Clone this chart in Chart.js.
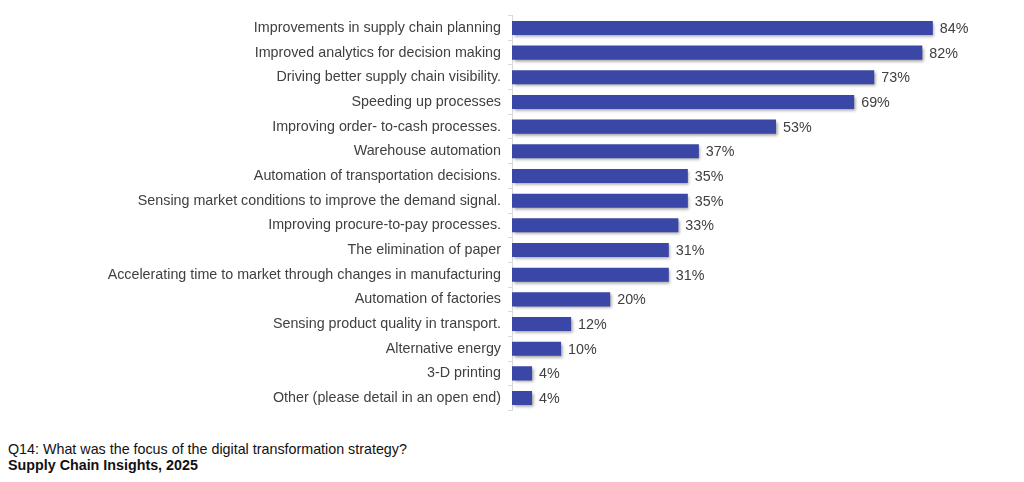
<!DOCTYPE html>
<html>
<head>
<meta charset="utf-8">
<script src="https://cdn.jsdelivr.net/npm/chart.js@4"></script>
<style>
  html,body{margin:0;padding:0;background:#fff;}
  #wrap{position:absolute;left:0;top:0;width:1024px;height:426px;}
  .foot{position:absolute;left:8px;font-family:"Liberation Sans",Arial,sans-serif;font-size:14.3px;color:#111;line-height:16px;}
</style>
</head>
<body>
<div id="wrap"><canvas id="c"></canvas></div>
<div class="foot" style="top:441px;">Q14: What was the focus of the digital transformation strategy?</div>
<div class="foot" style="top:457px;font-weight:bold;">Supply Chain Insights, 2025</div>
<script>
const categories = [
  "Improvements in supply chain planning",
  "Improved analytics for decision making",
  "Driving better supply chain visibility.",
  "Speeding up processes",
  "Improving order- to-cash processes.",
  "Warehouse automation",
  "Automation of transportation decisions.",
  "Sensing market conditions to improve the demand signal.",
  "Improving procure-to-pay processes.",
  "The elimination of paper",
  "Accelerating time to market through changes in manufacturing",
  "Automation of factories",
  "Sensing product quality in transport.",
  "Alternative energy",
  "3-D printing",
  "Other (please detail in an open end)"
];
// bar lengths (labels show rounded percentages)
const values = [84.0, 81.9, 72.3, 68.3, 52.7, 37.3, 35.1, 35.1, 33.2, 31.3, 31.3, 19.6, 11.8, 9.8, 4.0, 4.0];
const valueLabels = ["84%", "82%", "73%", "69%", "53%", "37%", "35%", "35%", "33%", "31%", "31%", "20%", "12%", "10%", "4%", "4%"];

const shadowPlugin = {
  id: 'shadow',
  beforeDatasetsDraw(chart) {
    const ctx = chart.ctx;
    ctx.save();
    ctx.shadowColor = 'rgba(0,0,0,0.38)';
    ctx.shadowBlur = 3;
    ctx.shadowOffsetX = 1.5;
    ctx.shadowOffsetY = 2;
  },
  afterDatasetsDraw(chart) {
    const ctx = chart.ctx;
    ctx.restore();
    const meta = chart.getDatasetMeta(0);
    ctx.save();
    ctx.font = '14.3px "Liberation Sans", Arial, sans-serif';
    ctx.fillStyle = '#404040';
    ctx.textAlign = 'left';
    ctx.textBaseline = 'middle';
    meta.data.forEach((bar, i) => {
      ctx.fillText(valueLabels[i], bar.x + 7, bar.y + 1);
    });
    ctx.restore();
  }
};

new Chart(document.getElementById('c'), {
  type: 'bar',
  data: {
    labels: categories,
    datasets: [{
      data: values,
      backgroundColor: '#3a47a6',
      borderWidth: 0,
      barPercentage: 0.57,
      categoryPercentage: 1.0
    }]
  },
  options: {
    indexAxis: 'y',
    responsive: true,
    maintainAspectRatio: false,
    animation: false,
    layout: { padding: { left: 0, right: 11, top: 13, bottom: 12 } },
    plugins: { legend: { display: false }, tooltip: { enabled: false } },
    scales: {
      x: { display: false, min: 0, max: 100 },
      y: {
        afterFit(scale) { scale.width = 512; },
        border: { display: true, color: '#d9d9d9', width: 1 },
        grid: { display: true, drawOnChartArea: false, drawTicks: true, tickLength: 4, color: '#d9d9d9', offset: true },
        ticks: {
          color: '#404040',
          padding: 7,
          font: { family: '"Liberation Sans", Arial, sans-serif', size: 14.3 }
        }
      }
    }
  },
  plugins: [shadowPlugin]
});
</script>
</body>
</html>
